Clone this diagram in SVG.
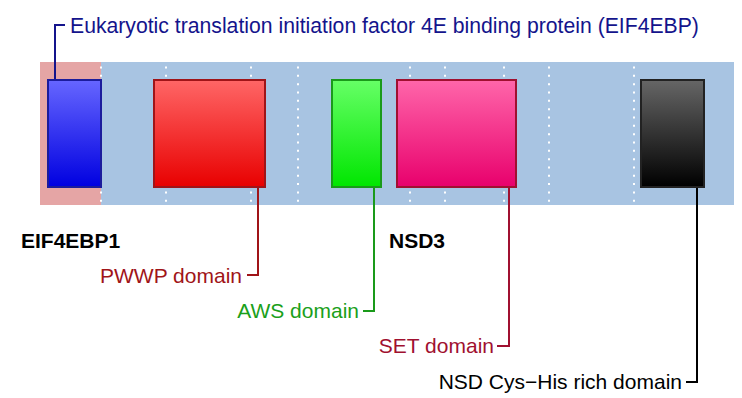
<svg xmlns="http://www.w3.org/2000/svg" width="742" height="398" viewBox="0 0 742 398">
<defs>
<linearGradient id="gBlue" x1="0" y1="0" x2="0" y2="1"><stop offset="0" stop-color="#6666ff"/><stop offset="1" stop-color="#0000e0"/></linearGradient>
<linearGradient id="gRed" x1="0" y1="0" x2="0" y2="1"><stop offset="0" stop-color="#ff6666"/><stop offset="1" stop-color="#e80000"/></linearGradient>
<linearGradient id="gGreen" x1="0" y1="0" x2="0" y2="1"><stop offset="0" stop-color="#66ff66"/><stop offset="1" stop-color="#00e600"/></linearGradient>
<linearGradient id="gPink" x1="0" y1="0" x2="0" y2="1"><stop offset="0" stop-color="#ff66aa"/><stop offset="1" stop-color="#e8006c"/></linearGradient>
<linearGradient id="gBlack" x1="0" y1="0" x2="0" y2="1"><stop offset="0" stop-color="#666666"/><stop offset="1" stop-color="#000000"/></linearGradient>
</defs>
<style>
text{font-family:"Liberation Sans",Arial,sans-serif;font-size:21px}
.b{font-weight:bold;fill:#000}
.dot{stroke:#ffffff;stroke-width:2;stroke-dasharray:2 6.33}
.conn{fill:none;stroke-width:2}
.box{stroke-width:2}
</style>
<g id="background">
<rect x="40" y="62" width="61" height="143" fill="#e5a5a5"/>
<rect x="101" y="62" width="633" height="143" fill="#a8c4e2"/>
<g id="gridlines">
<line class="dot" x1="101" y1="66.5" x2="101" y2="202"/>
<line class="dot" x1="166" y1="66.5" x2="166" y2="202"/>
<line class="dot" x1="251" y1="66.5" x2="251" y2="202"/>
<line class="dot" x1="298" y1="66.5" x2="298" y2="202"/>
<line class="dot" x1="410" y1="66.5" x2="410" y2="202"/>
<line class="dot" x1="445" y1="66.5" x2="445" y2="202"/>
<line class="dot" x1="504" y1="66.5" x2="504" y2="202"/>
<line class="dot" x1="549" y1="66.5" x2="549" y2="202"/>
<line class="dot" x1="634" y1="66.5" x2="634" y2="202"/>
</g>
</g>
<g id="connectors">
<polyline class="conn" stroke="#14148c" points="55,80 55,25 65,25"/>
<polyline class="conn" stroke="#a01418" points="258,187 258,275 247,275"/>
<polyline class="conn" stroke="#1a9a1a" points="374,187 374,311 363,311"/>
<polyline class="conn" stroke="#a01030" points="509,187 509,346 497,346"/>
<polyline class="conn" stroke="#000000" points="697,187 697,382 686,382"/>
</g>
<g id="eif4ebp-domain">
<rect class="box" x="48" y="80" width="53" height="107" fill="url(#gBlue)" stroke="#1c1c9c"/>
<text x="70" y="33" fill="#14148c" style="font-size:21.2px">Eukaryotic translation initiation factor 4E binding protein (EIF4EBP)</text>
</g>
<g id="pwwp-domain">
<rect class="box" x="154" y="80" width="111" height="107" fill="url(#gRed)" stroke="#a01418"/>
<text x="242" y="283" text-anchor="end" fill="#a01418">PWWP domain</text>
</g>
<g id="aws-domain">
<rect class="box" x="332" y="80" width="49" height="107" fill="url(#gGreen)" stroke="#1a9a1a"/>
<text x="359" y="318" text-anchor="end" fill="#1aa01a">AWS domain</text>
</g>
<g id="set-domain">
<rect class="box" x="397" y="80" width="119" height="107" fill="url(#gPink)" stroke="#a01030"/>
<text x="494" y="353" text-anchor="end" fill="#a01030">SET domain</text>
</g>
<g id="cyshis-domain">
<rect class="box" x="641" y="80" width="63" height="107" fill="url(#gBlack)" stroke="#222222"/>
<text x="682" y="389" text-anchor="end" fill="#000">NSD Cys−His rich domain</text>
</g>
<g id="eif4ebp1-label"><text class="b" x="21" y="248">EIF4EBP1</text></g>
<g id="nsd3-label"><text class="b" x="389" y="248">NSD3</text></g>
</svg>
